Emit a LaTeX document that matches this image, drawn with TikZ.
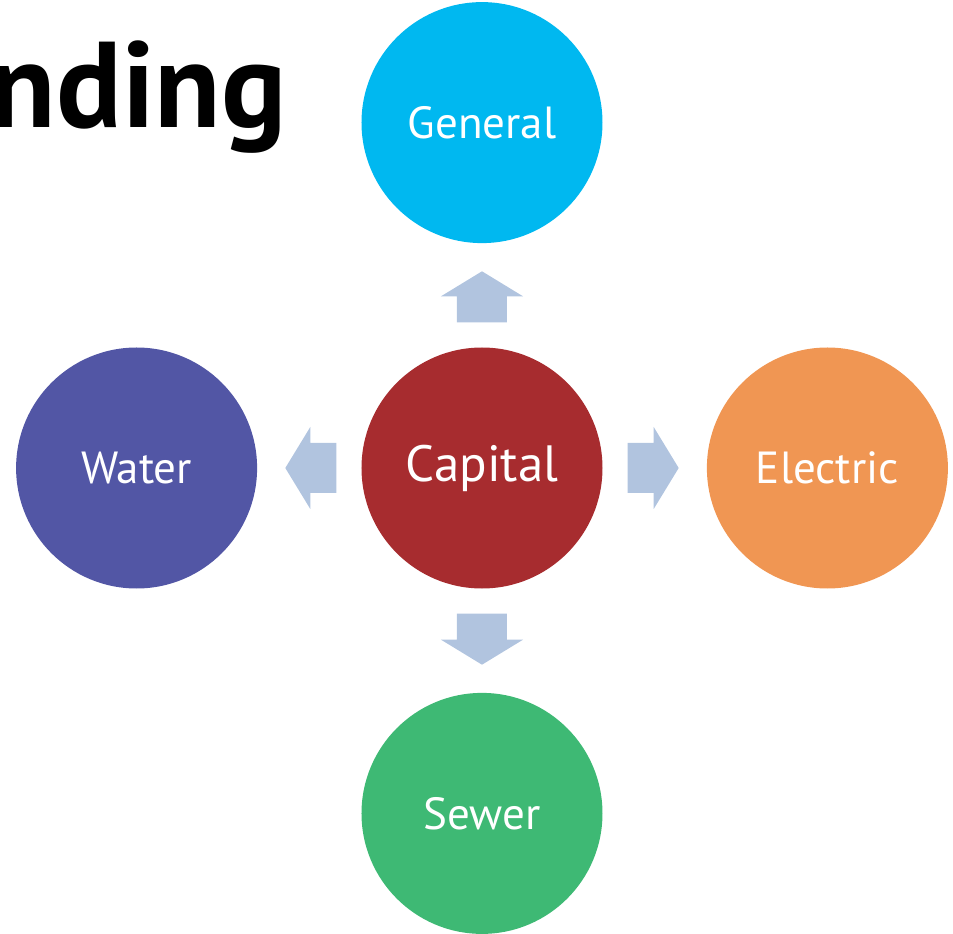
\documentclass[tikz,border=0pt]{standalone}
\usepackage{fontspec}
\setmainfont{PT Sans}
\usetikzlibrary{positioning}
\usetikzlibrary{calc}

\definecolor{capitalred}{RGB}{167,44,47}
\definecolor{generalblue}{RGB}{0,184,240}
\definecolor{electricorange}{RGB}{240,150,83}
\definecolor{waterblue}{RGB}{82,86,165}
\definecolor{sewergreen}{RGB}{62,185,116}
\definecolor{linkblue}{RGB}{177,196,223}

\begin{document}
\begin{tikzpicture}[x=1pt,y=1pt,node distance=104pt,
    hub/.style={circle,minimum size=241pt,inner sep=0pt,text=white,
        font=\fontsize{45}{52}\selectfont},
    link/.style={fill=linkblue}]
    \useasboundingbox (-482,-466) rectangle (471,468);
    \node [hub,fill=capitalred,font=\fontsize{51}{58}\selectfont] (capital) {Capital};
    \node [hub,fill=generalblue] (general) [above=of capital] {General};
    \node [hub,fill=electricorange] (electric) [right=of capital] {Electric};
    \node [hub,fill=waterblue] (water) [left=of capital] {Water};
    \node [hub,fill=sewergreen] (sewer) [below=of capital] {Sewer};
    \node [anchor=base east,inner sep=0pt,font=\fontsize{122}{122}\selectfont\bfseries] (title) at (-195,340) {nding};
    % block arrows between the hub and the outer circles
    \foreach \a/\n in {90/general,0/electric,180/water,270/sewer}
        \fill [link,shift={($(capital)!0.5!(\n)$)},rotate=\a]
            (-27,-25) -- (-1,-25) -- (-1,-41) -- (24,0) -- (-1,41) -- (-1,25) -- (-27,25) -- cycle;
\end{tikzpicture}
\end{document}
